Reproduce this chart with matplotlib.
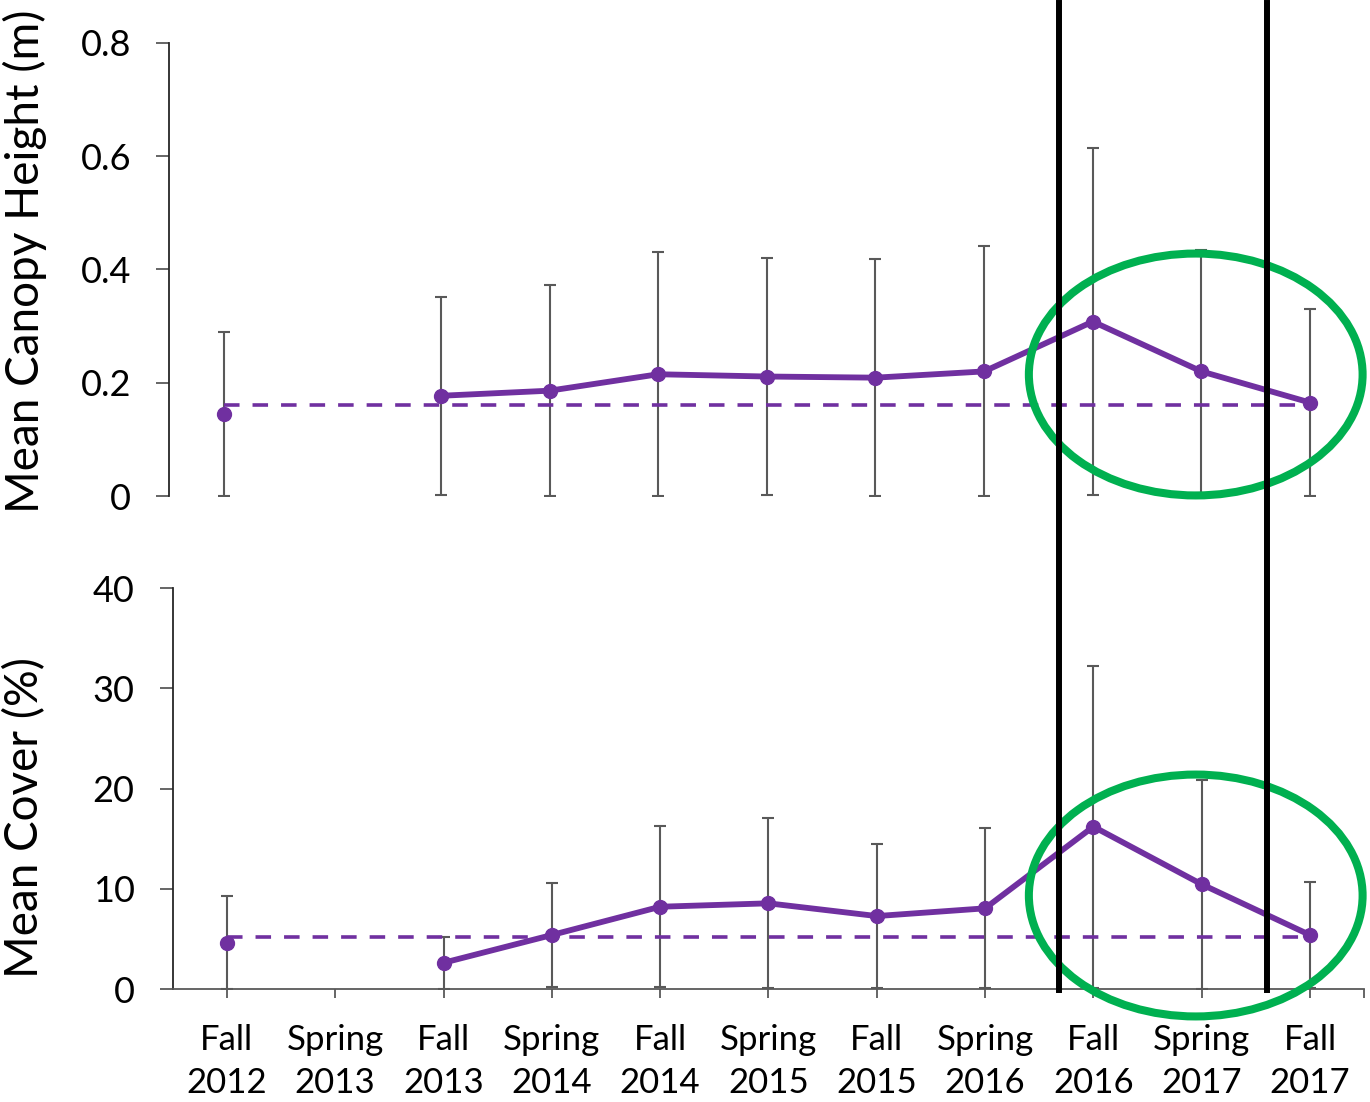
import numpy as np
import matplotlib
matplotlib.use("Agg")
import matplotlib.pyplot as plt
from matplotlib.lines import Line2D
from matplotlib.patches import Ellipse

plt.rcParams['font.family'] = ['Lato', 'DejaVu Sans']

seasons = ['Fall\n2012', 'Spring\n2013', 'Fall\n2013', 'Spring\n2014', 'Fall\n2014',
           'Spring\n2015', 'Fall\n2015', 'Spring\n2016', 'Fall\n2016', 'Spring\n2017',
           'Fall\n2017']

# canopy height (m), no survey in spring 2013
height_mean = [0.145, np.nan, 0.177, 0.186, 0.215, 0.211, 0.209, 0.220, 0.308, 0.220, 0.165]
height_sd = [0.145, np.nan, 0.175, 0.186, 0.216, 0.210, 0.209, 0.222, 0.307, 0.215, 0.165]
height_baseline = 0.16

# cover (%)
cover_mean = [4.62, np.nan, 2.62, 5.39, 8.21, 8.55, 7.28, 8.05, 16.2, 10.45, 5.39]
cover_sd = [4.66, np.nan, 2.58, 5.21, 8.05, 8.48, 7.22, 7.98, 16.05, 10.4, 5.26]
cover_baseline = 5.22

purple = '#7030A0'
green = '#00B050'
grey = '#595959'

x = np.arange(len(seasons))

fig = plt.figure(figsize=(13.7, 11.02), dpi=100)
ax1 = fig.add_axes([0.1236, 0.5499, 0.8723, 0.4111])
ax2 = fig.add_axes([0.1261, 0.1025, 0.8696, 0.3639])


def draw_panel(ax, mean, sd, baseline):
    mean = np.array(mean)
    sd = np.array(sd)
    lower = np.minimum(sd, mean)
    ax.errorbar(x, mean, yerr=[lower, sd], fmt='none', ecolor=grey,
                elinewidth=1.5, capsize=4.2, capthick=1.5, zorder=2)
    ax.plot([x[0], x[-1]], [baseline, baseline], color=purple, lw=2.6,
            dashes=(4.3, 3.6), zorder=3)
    ax.plot(x, mean, color=purple, lw=4.2, marker='o', markersize=10, zorder=4)
    ax.set_xlim(-0.5, len(seasons) - 0.5)
    for side in ['top', 'right']:
        ax.spines[side].set_visible(False)
    ax.spines['left'].set_color('#262626')
    ax.spines['left'].set_linewidth(1.3)
    ax.tick_params(axis='y', direction='out', length=9.5, width=1.3, color=grey,
                   labelsize=26, pad=18)


draw_panel(ax1, height_mean, height_sd, height_baseline)
ax1.set_ylim(0, 0.8)
ax1.set_yticks([0, 0.2, 0.4, 0.6, 0.8])
ax1.set_yticklabels(['0', '0.2', '0.4', '0.6', '0.8'])
ax1.spines['bottom'].set_visible(False)
ax1.set_xticks([])

draw_panel(ax2, cover_mean, cover_sd, cover_baseline)
ax2.set_ylim(0, 40)
ax2.set_yticks([0, 10, 20, 30, 40])
ax2.spines['bottom'].set_color(grey)
ax2.spines['bottom'].set_linewidth(1.3)
ax2.set_xticks(x)
ax2.set_xticks([len(seasons) - 0.5], minor=True)
ax2.set_xticklabels(seasons, linespacing=1.42)
ax2.tick_params(axis='x', which='both', direction='out', length=6.5, width=1.3,
                color=grey, labelsize=25, pad=19)

fig.text(0.018, 1 - 261 / 1102, 'Mean Canopy Height (m)', rotation=90,
         ha='center', va='center', fontsize=33)
fig.text(0.018, 1 - 817 / 1102, 'Mean Cover (%)', rotation=90,
         ha='center', va='center', fontsize=33)

# highlight of the 2016-2017 period
for cy in [1 - 374.5 / 1102, 1 - 895.5 / 1102]:
    fig.add_artist(Ellipse((0.8728, cy), 0.2436, 0.2195, transform=fig.transFigure,
                           fill=False, edgecolor=green, lw=5.8, zorder=5))
for vx in [0.7732, 0.9250]:
    fig.add_artist(Line2D([vx, vx], [0.997, 0.1016], transform=fig.transFigure,
                          color='black', lw=4.3, zorder=6))

fig.savefig('out.png', dpi=100)
